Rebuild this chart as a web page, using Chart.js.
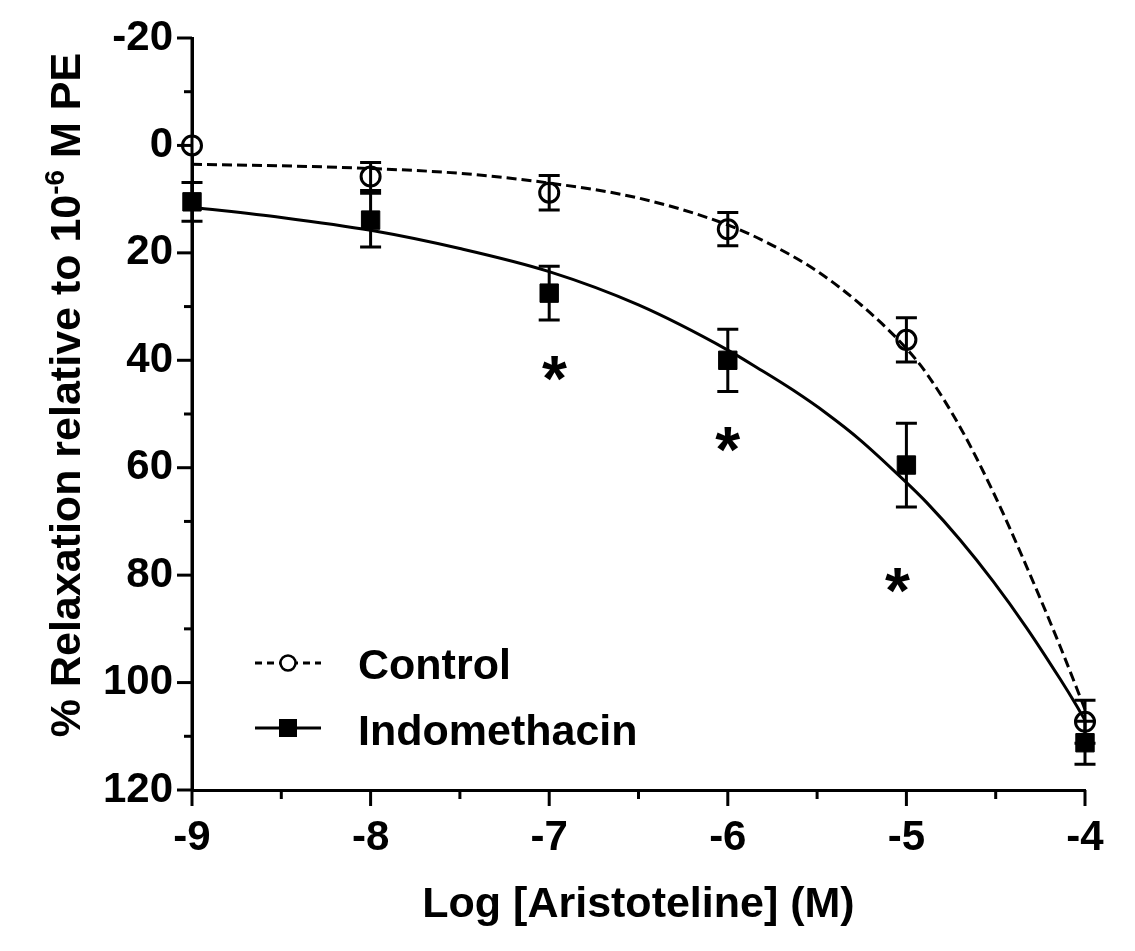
<!DOCTYPE html>
<html lang="en">
<head>
<meta charset="utf-8">
<style>
  html, body { margin: 0; padding: 0; background: #fff; }
  canvas { display: block; }
</style>
</head>
<body>
<canvas id="myChart" width="1135" height="951"></canvas>
<script src="https://cdn.jsdelivr.net/npm/chart.js"></script>
<script>
const FONT = "'Liberation Sans', Arial, sans-serif";

// mean response at each dose (log M) with SEM
const doses = [-9, -8, -7, -6, -5, -4];
const controlMean = [0, 5.8, 8.8, 15.6, 36.2, 107.3];
const controlErr = [0, 2.6, 3.2, 3.1, 4.1, 4.0];
const indoMean = [10.5, 13.9, 27.5, 40, 59.5, 111.2];
const indoErr = [3.6, 5.0, 5.0, 5.8, 7.8, 4.0];

// fitted curves
const controlFitX = [-9, -8.5, -8, -7.5, -7, -6.5, -6, -5.75, -5.5, -5.25, -5, -4.886, -4.7, -4.513, -4.327, -4.14, -4.047, -4];
const controlFitY = [3.5, 3.8, 4.3, 5.2, 7.0, 9.8, 14.8, 18.6, 23.4, 29.8, 37.8, 42.5, 52.4, 64.6, 78.4, 93.2, 101.0, 105];
const indoFitX = [-9, -8.5, -8, -7.5, -7, -6.5, -6, -5.82, -5.633, -5.447, -5.26, -5.008, -4.886, -4.7, -4.513, -4.327, -4.14, -4.047, -4];
const indoFitY = [11.5, 13.4, 15.8, 19.2, 23.5, 29.7, 38.1, 41.7, 45.6, 49.9, 54.8, 62.5, 66.5, 73.4, 81.2, 89.8, 99.3, 104.3, 107];

// significance marks (*)
const starX = [-6.97, -6, -5.05];
const starY = [41.5, 54.8, 81];

const seriesNames = ['Control', 'Indomethacin'];
const xTicks = [-9, -8, -7, -6, -5, -4];
const yTicks = [-20, 0, 20, 40, 60, 80, 100, 120];

const pts = (xs, ys) => xs.map((x, i) => ({ x: x, y: ys[i] }));

const decor = {
  id: 'decor',
  afterDatasetsDraw(chart) {
    const ctx = chart.ctx;
    const xs = chart.scales.x, ys = chart.scales.y;
    const area = chart.chartArea;
    ctx.save();
    ctx.strokeStyle = '#000';
    ctx.lineWidth = 3;
    // y axis line shows through the open symbols
    ctx.beginPath(); ctx.moveTo(area.left, area.top); ctx.lineTo(area.left, area.bottom); ctx.stroke();
    // error bars, on top of the symbols
    [[controlMean, controlErr], [indoMean, indoErr]].forEach(([m, e]) => {
      doses.forEach((d, i) => {
        if (!e[i]) return;
        const px = xs.getPixelForValue(d);
        const y1 = ys.getPixelForValue(m[i] - e[i]);
        const y2 = ys.getPixelForValue(m[i] + e[i]);
        ctx.beginPath();
        ctx.moveTo(px, y1); ctx.lineTo(px, y2);
        ctx.moveTo(px - 10.5, y1); ctx.lineTo(px + 10.5, y1);
        ctx.moveTo(px - 10.5, y2); ctx.lineTo(px + 10.5, y2);
        ctx.stroke();
      });
    });
    ctx.restore();
  },
  afterDraw(chart) {
    const ctx = chart.ctx;
    const xs = chart.scales.x, ys = chart.scales.y;
    const area = chart.chartArea;
    ctx.save();
    ctx.strokeStyle = '#000';
    ctx.fillStyle = '#000';
    ctx.lineWidth = 3;
    // tick marks, long for labelled ticks
    ys.ticks.forEach(t => {
      const py = ys.getPixelForValue(t.value);
      const len = yTicks.includes(t.value) ? 15 : 8;
      ctx.beginPath(); ctx.moveTo(area.left - len, py); ctx.lineTo(area.left, py); ctx.stroke();
    });
    xs.ticks.forEach(t => {
      const px = xs.getPixelForValue(t.value);
      const len = xTicks.includes(t.value) ? 16 : 9;
      ctx.beginPath(); ctx.moveTo(px, area.bottom); ctx.lineTo(px, area.bottom + len); ctx.stroke();
    });

    // asterisks
    ctx.font = 'bold 100px ' + FONT;
    let m = ctx.measureText('*');
    const fs = 100 * 25 / (m.actualBoundingBoxLeft + m.actualBoundingBoxRight);
    ctx.font = 'bold ' + fs.toFixed(1) + 'px ' + FONT;
    m = ctx.measureText('*');
    ctx.textAlign = 'left';
    ctx.textBaseline = 'alphabetic';
    starX.forEach((sx, i) => {
      const cx = xs.getPixelForValue(sx), cy = ys.getPixelForValue(starY[i]);
      ctx.fillText('*', cx - (m.actualBoundingBoxRight - m.actualBoundingBoxLeft) / 2,
        cy + (m.actualBoundingBoxAscent - m.actualBoundingBoxDescent) / 2);
    });

    // legend
    const lx = area.left + 63;
    ctx.lineWidth = 3;
    ctx.setLineDash([7, 5]);
    ctx.beginPath(); ctx.moveTo(lx, 663); ctx.lineTo(lx + 66, 663); ctx.stroke();
    ctx.setLineDash([]);
    ctx.fillStyle = '#fff';
    ctx.beginPath(); ctx.arc(lx + 33, 663, 7.5, 0, Math.PI * 2); ctx.fill();
    ctx.lineWidth = 2.5;
    ctx.stroke();
    ctx.lineWidth = 3;
    ctx.beginPath(); ctx.moveTo(lx, 728); ctx.lineTo(lx + 66, 728); ctx.stroke();
    ctx.fillStyle = '#000';
    ctx.fillRect(lx + 24, 719, 18, 18);
    ctx.font = 'bold 43px ' + FONT;
    ctx.fillText(seriesNames[0], lx + 103, 679);
    ctx.fillText(seriesNames[1], lx + 103, 745);

    // x title
    ctx.textAlign = 'center';
    ctx.fillText('Log [Aristoteline] (M)', (area.left + area.right) / 2, 917);

    // y title with superscript
    const big = 'bold 43px ' + FONT, small = 'bold 28px ' + FONT;
    const parts = [['% Relaxation relative to 10', big, 0], ['-6', small, -16], [' M PE', big, 0]];
    let total = 0;
    parts.forEach(p => { ctx.font = p[1]; total += ctx.measureText(p[0]).width; });
    ctx.translate(80, 395);
    ctx.rotate(-Math.PI / 2);
    ctx.textAlign = 'left';
    let x = -total / 2;
    parts.forEach(p => {
      ctx.font = p[1];
      ctx.fillText(p[0], x, p[2]);
      x += ctx.measureText(p[0]).width;
    });
    ctx.restore();
  }
};

const tickFont = { family: FONT, size: 42, weight: 'bold' };

new Chart(document.getElementById('myChart'), {
  type: 'scatter',
  data: {
    datasets: [
      {
        label: seriesNames[0] + ' fit',
        data: pts(controlFitX, controlFitY),
        showLine: true,
        borderColor: '#000',
        borderWidth: 3,
        borderDash: [10, 5],
        pointRadius: 0,
        cubicInterpolationMode: 'monotone',
        clip: false
      },
      {
        label: seriesNames[1] + ' fit',
        data: pts(indoFitX, indoFitY),
        showLine: true,
        borderColor: '#000',
        borderWidth: 3,
        pointRadius: 0,
        cubicInterpolationMode: 'monotone',
        clip: false
      },
      {
        label: seriesNames[0],
        data: pts(doses, controlMean),
        pointStyle: 'circle',
        pointRadius: 9.5,
        borderWidth: 3,
        borderColor: '#000',
        backgroundColor: '#fff',
        clip: false
      },
      {
        label: seriesNames[1],
        data: pts(doses, indoMean),
        pointStyle: 'rect',
        pointRadius: 13,
        borderWidth: 1,
        borderColor: '#000',
        backgroundColor: '#000',
        clip: false
      }
    ]
  },
  options: {
    responsive: false,
    animation: false,
    devicePixelRatio: 1,
    layout: { padding: { top: 38, right: 50, left: 0, bottom: 0 } },
    plugins: { legend: { display: false }, tooltip: { enabled: false } },
    scales: {
      x: {
        type: 'linear',
        position: 'bottom',
        min: -9,
        max: -4,
        afterFit: s => { s.height = 161; },
        grid: { drawOnChartArea: false, tickLength: 16, tickColor: 'rgba(0,0,0,0)' },
        border: { color: '#000', width: 3 },
        ticks: {
          stepSize: 0.5,
          autoSkip: false,
          maxRotation: 0,
          padding: 7,
          color: '#000',
          font: tickFont,
          callback: v => xTicks.includes(v) ? String(v) : ''
        }
      },
      y: {
        type: 'linear',
        reverse: true,
        min: -20,
        max: 120,
        afterFit: s => { s.width = 192; },
        grid: { drawOnChartArea: false, tickLength: 15, tickColor: 'rgba(0,0,0,0)' },
        border: { color: '#000', width: 3 },
        ticks: {
          stepSize: 10,
          autoSkip: false,
          padding: 4,
          color: '#000',
          font: tickFont,
          callback: v => yTicks.includes(v) ? String(v) : ''
        }
      }
    }
  },
  plugins: [decor]
});
</script>
</body>
</html>
